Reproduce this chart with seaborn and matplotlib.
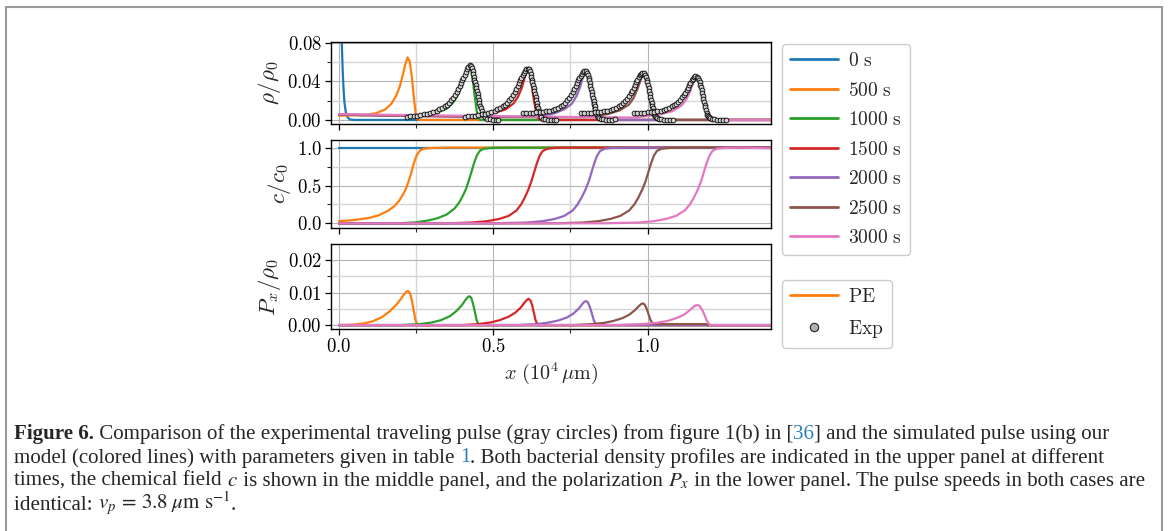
import matplotlib
matplotlib.use("Agg")
import matplotlib.pyplot as plt
from matplotlib.lines import Line2D
from matplotlib.ticker import FixedLocator, FuncFormatter
import seaborn as sns

sns.set_style("white")
plt.rcParams["font.family"] = ["DejaVu Serif"]
plt.rcParams["mathtext.fontset"] = "cm"

# legend labels
time_labels = ["0 s", "500 s", "1000 s", "1500 s", "2000 s", "2500 s", "3000 s"]

# ---- rho / rho0 (top panel), x in 1e4 um ----
rho_0s_x = [0.0, 0.006, 0.009, 0.012, 0.015, 0.018, 0.022, 0.027, 0.035, 0.05, 1.4]
rho_0s_y = [0.3, 0.12, 0.08, 0.05, 0.03, 0.017, 0.008, 0.003, 0.0005, 0.0, 0.0]
rho_500s_x = [0.0, 0.08, 0.12, 0.15, 0.17, 0.185, 0.197, 0.207, 0.215, 0.222, 0.229, 0.236, 0.242, 0.248, 0.253, 0.26, 1.4]
rho_500s_y = [0.0045, 0.005, 0.007, 0.011, 0.017, 0.025, 0.035, 0.047, 0.058, 0.065, 0.061, 0.045, 0.025, 0.008, 0.001, 0.0, 0.0]
rho_1000s_x = [0.0, 0.2, 0.28, 0.32, 0.35, 0.37, 0.385, 0.398, 0.408, 0.416, 0.421, 0.427, 0.434, 0.44, 0.446, 0.451, 0.458, 1.4]
rho_1000s_y = [0.0055, 0.0045, 0.005, 0.008, 0.012, 0.018, 0.026, 0.036, 0.046, 0.054, 0.057, 0.055, 0.04, 0.024, 0.01, 0.002, 0.0, 0.0]
rho_1500s_x = [0.0, 0.3, 0.45, 0.5, 0.54, 0.565, 0.58, 0.592, 0.6, 0.606, 0.611, 0.617, 0.624, 0.631, 0.638, 0.644, 0.652, 1.4]
rho_1500s_y = [0.0055, 0.004, 0.004, 0.007, 0.011, 0.017, 0.024, 0.033, 0.042, 0.05, 0.053, 0.051, 0.038, 0.022, 0.009, 0.002, 0.0, 0.0]
rho_2000s_x = [0.0, 0.4, 0.63, 0.69, 0.73, 0.755, 0.77, 0.781, 0.789, 0.795, 0.8, 0.806, 0.813, 0.82, 0.827, 0.833, 0.84, 1.4]
rho_2000s_y = [0.0055, 0.0035, 0.0035, 0.006, 0.011, 0.017, 0.025, 0.034, 0.043, 0.049, 0.051, 0.048, 0.035, 0.02, 0.008, 0.002, 0.0, 0.0]
rho_2500s_x = [0.0, 0.5, 0.8, 0.87, 0.91, 0.94, 0.955, 0.967, 0.976, 0.982, 0.987, 0.994, 1.001, 1.008, 1.015, 1.021, 1.028, 1.4]
rho_2500s_y = [0.0055, 0.003, 0.003, 0.006, 0.01, 0.016, 0.023, 0.032, 0.04, 0.046, 0.048, 0.045, 0.033, 0.019, 0.008, 0.002, 0.0, 0.0]
rho_3000s_x = [0.0, 0.6, 0.95, 1.03, 1.08, 1.11, 1.125, 1.137, 1.146, 1.152, 1.158, 1.166, 1.174, 1.182, 1.19, 1.197, 1.205, 1.4]
rho_3000s_y = [0.006, 0.0035, 0.0025, 0.005, 0.009, 0.015, 0.021, 0.029, 0.037, 0.042, 0.045, 0.043, 0.034, 0.021, 0.009, 0.002, 0.0, 0.0]

# ---- experimental pulse (gray circles) ----
exp_1000s_x = [0.22, 0.231, 0.242, 0.253, 0.264, 0.275, 0.286, 0.296, 0.306, 0.316, 0.325, 0.334, 0.342, 0.35, 0.357, 0.364, 0.37, 0.376, 0.381, 0.386, 0.391, 0.395, 0.399, 0.403, 0.407, 0.411, 0.415, 0.419, 0.423, 0.427, 0.43, 0.433, 0.435, 0.437, 0.439, 0.441, 0.443, 0.445, 0.447, 0.449, 0.451, 0.453, 0.455, 0.457, 0.46, 0.463, 0.467, 0.472, 0.479, 0.488, 0.498, 0.508, 0.516]
exp_1000s_y = [0.0035, 0.0037, 0.004, 0.0045, 0.005, 0.0057, 0.0065, 0.0075, 0.0085, 0.0097, 0.011, 0.0125, 0.014, 0.016, 0.018, 0.0205, 0.023, 0.026, 0.029, 0.032, 0.035, 0.038, 0.041, 0.044, 0.047, 0.05, 0.053, 0.0555, 0.057, 0.0565, 0.054, 0.051, 0.048, 0.045, 0.042, 0.039, 0.036, 0.033, 0.03, 0.027, 0.024, 0.021, 0.018, 0.015, 0.012, 0.009, 0.006, 0.0035, 0.0015, 0.0005, 0.0, 0.0, 0.0]
exp_1500s_x = [0.408, 0.419, 0.43, 0.441, 0.452, 0.463, 0.474, 0.484, 0.494, 0.504, 0.513, 0.522, 0.53, 0.538, 0.545, 0.552, 0.558, 0.564, 0.569, 0.574, 0.579, 0.583, 0.587, 0.591, 0.595, 0.599, 0.603, 0.607, 0.611, 0.615, 0.618, 0.621, 0.623, 0.625, 0.627, 0.629, 0.631, 0.633, 0.635, 0.637, 0.639, 0.641, 0.643, 0.645, 0.648, 0.651, 0.655, 0.66, 0.667, 0.676, 0.686, 0.696, 0.704]
exp_1500s_y = [0.0035, 0.0037, 0.004, 0.0045, 0.005, 0.0057, 0.0065, 0.0075, 0.0085, 0.0097, 0.011, 0.0125, 0.014, 0.016, 0.018, 0.0205, 0.023, 0.026, 0.029, 0.032, 0.035, 0.038, 0.041, 0.044, 0.047, 0.049, 0.051, 0.0525, 0.053, 0.0525, 0.0505, 0.048, 0.045, 0.042, 0.039, 0.036, 0.033, 0.03, 0.027, 0.024, 0.021, 0.018, 0.015, 0.012, 0.009, 0.006, 0.0035, 0.0015, 0.0005, 0.0, 0.0, 0.0, 0.0]
exp_2000s_x = [0.596, 0.607, 0.618, 0.629, 0.64, 0.651, 0.662, 0.672, 0.682, 0.692, 0.701, 0.71, 0.718, 0.726, 0.733, 0.74, 0.746, 0.752, 0.757, 0.762, 0.767, 0.771, 0.775, 0.779, 0.783, 0.787, 0.791, 0.795, 0.799, 0.803, 0.806, 0.809, 0.811, 0.813, 0.815, 0.817, 0.819, 0.821, 0.823, 0.825, 0.827, 0.829, 0.831, 0.833, 0.836, 0.839, 0.843, 0.848, 0.855, 0.864, 0.874, 0.884, 0.894]
exp_2000s_y = [0.0077, 0.0075, 0.0075, 0.0075, 0.0078, 0.008, 0.0085, 0.009, 0.0097, 0.0105, 0.0115, 0.0125, 0.014, 0.016, 0.018, 0.0205, 0.023, 0.026, 0.029, 0.032, 0.035, 0.038, 0.041, 0.044, 0.046, 0.048, 0.05, 0.051, 0.0505, 0.049, 0.047, 0.044, 0.041, 0.038, 0.035, 0.032, 0.029, 0.026, 0.023, 0.02, 0.017, 0.014, 0.011, 0.008, 0.0055, 0.0035, 0.002, 0.001, 0.0005, 0.0, 0.0, 0.0, 0.001]
exp_2500s_x = [0.784, 0.795, 0.806, 0.817, 0.828, 0.839, 0.85, 0.86, 0.87, 0.88, 0.889, 0.898, 0.906, 0.914, 0.921, 0.928, 0.934, 0.94, 0.945, 0.95, 0.955, 0.959, 0.963, 0.967, 0.971, 0.975, 0.979, 0.983, 0.987, 0.991, 0.994, 0.997, 0.999, 1.001, 1.003, 1.005, 1.007, 1.009, 1.011, 1.013, 1.015, 1.017, 1.019, 1.021, 1.024, 1.027, 1.031, 1.036, 1.043, 1.052, 1.062, 1.072, 1.082]
exp_2500s_y = [0.0077, 0.0075, 0.0075, 0.0075, 0.0078, 0.008, 0.0085, 0.009, 0.0097, 0.0105, 0.0115, 0.0125, 0.014, 0.0155, 0.0175, 0.0195, 0.022, 0.0245, 0.0275, 0.0305, 0.0335, 0.0365, 0.0395, 0.042, 0.0445, 0.0465, 0.048, 0.049, 0.0485, 0.047, 0.045, 0.042, 0.039, 0.036, 0.033, 0.03, 0.027, 0.024, 0.021, 0.018, 0.015, 0.012, 0.009, 0.0065, 0.0045, 0.003, 0.0018, 0.001, 0.0005, 0.0, 0.0, 0.0, 0.0]
exp_3000s_x = [0.956, 0.967, 0.978, 0.989, 1.0, 1.011, 1.022, 1.032, 1.042, 1.052, 1.061, 1.07, 1.078, 1.086, 1.093, 1.1, 1.106, 1.112, 1.117, 1.122, 1.127, 1.131, 1.135, 1.139, 1.143, 1.147, 1.151, 1.155, 1.159, 1.163, 1.166, 1.169, 1.171, 1.173, 1.175, 1.177, 1.179, 1.181, 1.183, 1.185, 1.187, 1.189, 1.191, 1.193, 1.196, 1.199, 1.203, 1.208, 1.215, 1.224, 1.234, 1.244, 1.254]
exp_3000s_y = [0.0077, 0.0075, 0.0075, 0.0075, 0.0078, 0.008, 0.0085, 0.009, 0.0097, 0.0105, 0.0115, 0.0125, 0.014, 0.0155, 0.017, 0.019, 0.021, 0.0235, 0.026, 0.0285, 0.031, 0.0335, 0.036, 0.0385, 0.041, 0.043, 0.0445, 0.0452, 0.0448, 0.0435, 0.0415, 0.039, 0.0365, 0.034, 0.031, 0.028, 0.025, 0.022, 0.019, 0.016, 0.013, 0.01, 0.0075, 0.0055, 0.004, 0.0028, 0.0018, 0.001, 0.0005, 0.0, 0.0, 0.0, 0.0]

# ---- c / c0 (middle panel) ----
c_0s_x = [0.0, 1.4]
c_0s_y = [1.0, 1.0]
c_500s_x = [0.0, 0.05, 0.1, 0.13, 0.16, 0.18, 0.195, 0.207, 0.217, 0.226, 0.235, 0.243, 0.252, 0.262, 0.275, 0.3, 0.35, 1.4]
c_500s_y = [0.03, 0.045, 0.075, 0.11, 0.17, 0.23, 0.3, 0.38, 0.46, 0.56, 0.68, 0.8, 0.9, 0.96, 0.985, 0.995, 1.0, 1.0]
c_1000s_x = [0.0, 0.2, 0.25, 0.29, 0.32, 0.35, 0.375, 0.39, 0.402, 0.412, 0.421, 0.43, 0.438, 0.447, 0.457, 0.47, 0.5, 0.55, 1.4]
c_1000s_y = [0.0, 0.003, 0.015, 0.04, 0.07, 0.12, 0.2, 0.28, 0.37, 0.46, 0.57, 0.69, 0.8, 0.9, 0.96, 0.985, 0.997, 1.0, 1.0]
c_1500s_x = [0.0, 0.35, 0.43, 0.48, 0.52, 0.55, 0.575, 0.59, 0.602, 0.613, 0.623, 0.632, 0.641, 0.65, 0.66, 0.675, 0.705, 0.76, 1.4]
c_1500s_y = [0.0, 0.002, 0.012, 0.03, 0.06, 0.1, 0.17, 0.25, 0.34, 0.44, 0.55, 0.67, 0.79, 0.89, 0.955, 0.985, 0.997, 1.0, 1.0]
c_2000s_x = [0.0, 0.5, 0.61, 0.66, 0.7, 0.73, 0.757, 0.773, 0.786, 0.798, 0.809, 0.818, 0.827, 0.836, 0.846, 0.861, 0.89, 0.95, 1.4]
c_2000s_y = [0.0, 0.002, 0.012, 0.03, 0.06, 0.1, 0.17, 0.25, 0.34, 0.44, 0.55, 0.67, 0.79, 0.89, 0.955, 0.985, 0.997, 1.0, 1.0]
c_2500s_x = [0.0, 0.7, 0.79, 0.84, 0.88, 0.912, 0.94, 0.957, 0.97, 0.982, 0.993, 1.002, 1.011, 1.02, 1.03, 1.045, 1.075, 1.13, 1.4]
c_2500s_y = [0.0, 0.002, 0.012, 0.03, 0.06, 0.1, 0.17, 0.25, 0.34, 0.44, 0.55, 0.67, 0.79, 0.89, 0.955, 0.985, 0.997, 1.0, 1.0]
c_3000s_x = [0.0, 0.86, 0.97, 1.02, 1.06, 1.092, 1.12, 1.137, 1.15, 1.162, 1.173, 1.182, 1.191, 1.2, 1.21, 1.225, 1.255, 1.31, 1.4]
c_3000s_y = [0.0, 0.002, 0.012, 0.03, 0.06, 0.1, 0.17, 0.25, 0.34, 0.44, 0.55, 0.67, 0.79, 0.89, 0.955, 0.985, 0.997, 0.999, 0.99]

# ---- P_x / rho0 (bottom panel) ----
p_0s_x = [0.0, 1.4]
p_0s_y = [0.0, 0.0]
p_500s_x = [0.0, 0.04, 0.08, 0.11, 0.14, 0.165, 0.185, 0.2, 0.21, 0.218, 0.224, 0.23, 0.236, 0.242, 0.248, 0.254, 1.4]
p_500s_y = [0.0, 0.0001, 0.0005, 0.0012, 0.0025, 0.0043, 0.0062, 0.008, 0.0094, 0.0103, 0.0105, 0.0099, 0.0077, 0.0045, 0.0015, 0.0, 0.0]
p_1000s_x = [0.0, 0.2, 0.26, 0.3, 0.33, 0.36, 0.38, 0.397, 0.408, 0.416, 0.422, 0.428, 0.434, 0.44, 0.446, 0.453, 1.4]
p_1000s_y = [0.0, 0.0, 0.0003, 0.0008, 0.0015, 0.0028, 0.0043, 0.006, 0.0075, 0.0085, 0.0089, 0.0085, 0.0067, 0.0042, 0.0015, 0.0, 0.0]
p_1500s_x = [0.0, 0.4, 0.45, 0.49, 0.52, 0.55, 0.572, 0.589, 0.6, 0.608, 0.614, 0.62, 0.626, 0.631, 0.637, 0.644, 1.4]
p_1500s_y = [0.0, 0.0, 0.0003, 0.0008, 0.0015, 0.0026, 0.0039, 0.0054, 0.0068, 0.0077, 0.0081, 0.0077, 0.0061, 0.004, 0.0015, 0.0, 0.0]
p_2000s_x = [0.0, 0.58, 0.64, 0.68, 0.71, 0.74, 0.76, 0.776, 0.787, 0.794, 0.8, 0.806, 0.813, 0.819, 0.826, 0.834, 1.4]
p_2000s_y = [0.0, 0.0, 0.0003, 0.0008, 0.0014, 0.0024, 0.0036, 0.005, 0.0063, 0.0071, 0.0074, 0.0071, 0.0056, 0.0037, 0.0014, 0.0, 0.0]
p_2500s_x = [0.0, 0.76, 0.82, 0.86, 0.89, 0.92, 0.942, 0.959, 0.97, 0.978, 0.984, 0.99, 0.997, 1.003, 1.01, 1.018, 1.19, 1.2, 1.4]
p_2500s_y = [0.0, 0.0, 0.0003, 0.0007, 0.0013, 0.0022, 0.0033, 0.0046, 0.0057, 0.0064, 0.0067, 0.0064, 0.0051, 0.0034, 0.0014, 0.0003, 0.0003, 0.0, 0.0]
p_3000s_x = [0.0, 0.9, 0.98, 1.03, 1.065, 1.095, 1.118, 1.134, 1.146, 1.155, 1.162, 1.169, 1.177, 1.185, 1.193, 1.202, 1.4]
p_3000s_y = [0.0, 0.0, 0.0003, 0.0007, 0.0013, 0.0022, 0.0032, 0.0044, 0.0054, 0.006, 0.0062, 0.0059, 0.0047, 0.003, 0.0012, 0.0, 0.0]

rho_curves = [(rho_0s_x, rho_0s_y), (rho_500s_x, rho_500s_y), (rho_1000s_x, rho_1000s_y),
              (rho_1500s_x, rho_1500s_y), (rho_2000s_x, rho_2000s_y), (rho_2500s_x, rho_2500s_y),
              (rho_3000s_x, rho_3000s_y)]
c_curves = [(c_0s_x, c_0s_y), (c_500s_x, c_500s_y), (c_1000s_x, c_1000s_y), (c_1500s_x, c_1500s_y),
            (c_2000s_x, c_2000s_y), (c_2500s_x, c_2500s_y), (c_3000s_x, c_3000s_y)]
p_curves = [(p_0s_x, p_0s_y), (p_500s_x, p_500s_y), (p_1000s_x, p_1000s_y), (p_1500s_x, p_1500s_y),
            (p_2000s_x, p_2000s_y), (p_2500s_x, p_2500s_y), (p_3000s_x, p_3000s_y)]
exp_sets = [(exp_1000s_x, exp_1000s_y), (exp_1500s_x, exp_1500s_y), (exp_2000s_x, exp_2000s_y),
            (exp_2500s_x, exp_2500s_y), (exp_3000s_x, exp_3000s_y)]

colors = sns.color_palette("tab10", 7)

W, H = 1168, 531
fig = plt.figure(figsize=(W / 100, H / 100), dpi=100)

def box(x0, top, x1, bottom):
    return [x0 / W, 1 - bottom / H, (x1 - x0) / W, (bottom - top) / H]

ax_rho = fig.add_axes(box(331, 42, 771, 124))
ax_c = fig.add_axes(box(331, 140, 771, 228))
ax_p = fig.add_axes(box(331, 244, 771, 329))

for ax, curves in [(ax_rho, rho_curves), (ax_c, c_curves), (ax_p, p_curves)]:
    for (xs, ys), col in zip(curves, colors):
        sns.lineplot(x=xs, y=ys, ax=ax, color=col, lw=1.6, legend=False, estimator=None)

for xs, ys in exp_sets:
    sns.scatterplot(x=xs, y=ys, ax=ax_rho, s=12, color="#d4d4d4", edgecolor="black",
                    linewidth=0.6, zorder=5, legend=False)

def math_fmt(nd):
    return FuncFormatter(lambda v, pos: "$%.*f$" % (nd, v))

settings = [
    (ax_rho, (-0.0042, 0.081), [0.0, 0.04, 0.08], [0.02, 0.06], 2, r"$\rho/\rho_0$"),
    (ax_c, (-0.06, 1.1), [0.0, 0.5, 1.0], [0.25, 0.75], 1, r"$c/c_0$"),
    (ax_p, (-0.0012, 0.025), [0.0, 0.01, 0.02], [0.005, 0.015], 2, r"$P_x/\rho_0$"),
]
for ax, ylim, major, minor, nd, ylab in settings:
    ax.set_xlim(-0.026, 1.4)
    ax.set_ylim(*ylim)
    ax.xaxis.set_major_locator(FixedLocator([0.0, 0.5, 1.0]))
    ax.xaxis.set_minor_locator(FixedLocator([0.25, 0.75]))
    ax.yaxis.set_major_locator(FixedLocator(major))
    ax.yaxis.set_minor_locator(FixedLocator(minor))
    ax.yaxis.set_major_formatter(math_fmt(nd))
    ax.xaxis.set_major_formatter(math_fmt(1))
    ax.grid(True, which="major", color="#b4b4b4", lw=0.8)
    ax.grid(True, which="minor", color="#d6d6d6", lw=1.0)
    ax.tick_params(which="major", direction="out", length=4, width=0.9, labelsize=13.5,
                   left=True, bottom=True, colors="black", pad=2.5)
    ax.tick_params(which="minor", direction="out", length=3, width=0.8, left=True, bottom=True)
    for sp in ax.spines.values():
        sp.set_color("black")
        sp.set_linewidth(1.0)
    ax.set_ylabel(ylab, fontsize=16.5, labelpad=3)
    if ax is not ax_p:
        ax.tick_params(labelbottom=False)

ax_p.set_xlabel(r"$x\ (10^4\,\mathrm{\mu m})$", fontsize=14.5, labelpad=3)
fig.align_ylabels([ax_rho, ax_c, ax_p])

leg_kw = dict(loc="upper left", fontsize=14, handlelength=2.45, handletextpad=0.55,
              labelspacing=0.59, borderpad=0.42, borderaxespad=0, frameon=True, fancybox=True,
              edgecolor="#cccccc", framealpha=1)
h1 = [Line2D([], [], color=c, lw=2) for c in colors]
fig.legend(h1, [r"$\mathrm{%s}$" % t.replace(" ", r"\ ") for t in time_labels],
           bbox_to_anchor=(782 / W, 1 - 44 / H), **leg_kw)
h2 = [Line2D([], [], color=colors[1], lw=2),
      Line2D([], [], ls="none", marker="o", markersize=6, markerfacecolor="#b0b0b0",
             markeredgecolor="#222222", markeredgewidth=0.8)]
fig.legend(h2, [r"$\mathrm{PE}$", r"$\mathrm{Exp}$"], bbox_to_anchor=(782 / W, 1 - 280 / H), **leg_kw)

# frame around figure + caption (top and sides only)
border = "#9a9a9a"
fig.add_artist(Line2D([6 / W, 6 / W], [0, 1 - 7 / H], color=border, lw=1.5))
fig.add_artist(Line2D([1162 / W, 1162 / W], [0, 1 - 7 / H], color=border, lw=1.5))
fig.add_artist(Line2D([6 / W, 1162 / W], [1 - 7 / H, 1 - 7 / H], color=border, lw=1.5))

link = "#2a7fbf"
caption = [
    [("Figure 6.", {"fontweight": "bold"}),
     (" Comparison of the experimental traveling pulse (gray circles) from figure 1(b) in [", {}),
     ("36", {"color": link}), ("] and the simulated pulse using our", {})],
    [("model (colored lines) with parameters given in table ", {}), ("1", {"color": link}),
     (". Both bacterial density profiles are indicated in the upper panel at different", {})],
    [("times, the chemical field ", {}), ("$c$", {}),
     (" is shown in the middle panel, and the polarization ", {}), ("$P_x$", {}),
     (" in the lower panel. The pulse speeds in both cases are", {})],
    [("identical: ", {}), (r"$v_p\,=\,3.8\;\mu\mathrm{m\ s}^{-1}$", {}), (".", {})],
]
baselines = [439, 462.5, 486, 509.5]
renderer = fig.canvas.get_renderer()

def draw_line(runs, y_px, size):
    x = 14 / W
    made = []
    for txt, kw in runs:
        t = fig.text(x, 1 - y_px / H, txt, fontsize=size, family="Liberation Serif",
                     math_fontfamily="stix", va="baseline", ha="left", **kw)
        made.append(t)
        x = t.get_window_extent(renderer).x1 / W
    return made, x * W

tmp, end = draw_line(caption[0], baselines[0], 13)
for t in tmp:
    t.remove()
size = 13 * (1101 - 14) / (end - 14)
for runs, yb in zip(caption, baselines):
    draw_line(runs, yb, size)

fig.savefig("out.png", dpi=100)
